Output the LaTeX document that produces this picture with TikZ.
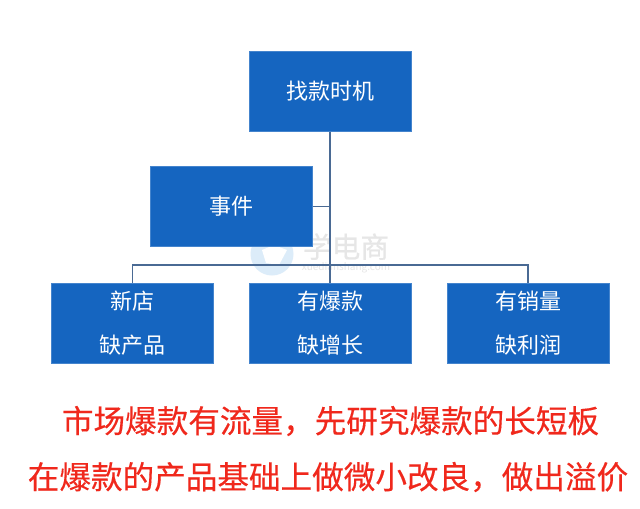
\documentclass[tikz,border=0pt]{standalone}
\usepackage{fontspec}
\setmainfont{Noto Sans CJK SC}
\newfontfamily\notefont[FakeBold=0.35]{Noto Sans CJK SC}
\definecolor{boxblue}{HTML}{1565C0}
\definecolor{linkblue}{HTML}{4A6A94}
\definecolor{notered}{HTML}{F0281C}
\definecolor{markblue}{HTML}{DCECF9}
\definecolor{markgrey}{HTML}{E6E6E6}
\tikzset{every picture/.style={line width=0.75pt}}
\tikzset{
  boxnode/.style={draw=boxblue!80!white,fill=boxblue,text=white,minimum width=121.5pt,minimum height=60pt,inner sep=0pt,align=center,font=\fontsize{16.5}{33}\selectfont},
  linkline/.style={draw=linkblue,line width=1.3pt},
  notetext/.style={text=notered,inner sep=0pt,font=\notefont\fontsize{23.7}{28}\selectfont},
}

\begin{document}
\begin{tikzpicture}[x=0.75pt,y=0.75pt,yscale=-1,xscale=1]
\useasboundingbox[fill=white] (0,0) rectangle (640,508);

%Watermark
\fill[markblue] (272,254) circle (21.5);
\fill[white] (262,250) -- (274,245) -- (287,250) -- (279,265) -- (266,263) -- cycle ;
\node[text=markgrey,inner sep=0pt,text height=14pt,text depth=1pt,font=\notefont\fontsize{21.5}{21}\selectfont] (markname) at (346,249) {学电商};
\node[text=markgrey,inner sep=0pt,text height=5pt,text depth=0pt,font=\fontsize{7.5}{8}\selectfont] (markurl) at (346,267) {xuedianshang.com};

%Boxes
\node[boxnode] (zhaokuan) at (330,91) {找款时机};
\node[boxnode] (shijian) at (231.5,206.5) {事件};
\node[boxnode] (xindian) at (132.5,323) {新店\\缺产品};
\node[boxnode] (baokuan) at (330,323) {有爆款\\缺增长};
\node[boxnode] (xiaoliang) at (528,323) {有销量\\缺利润};

%Straight Lines
\coordinate (busleft) at (xindian.north |- 0,265);
\coordinate (busright) at (xiaoliang.north |- 0,265);
\draw[linkline] (zhaokuan.south) -- (baokuan.north) ;
\draw[linkline] (shijian.east) -- (shijian.east -| zhaokuan.south) ;
\draw[linkline] (xindian.north) -- (busleft) -- (busright) -- (xiaoliang.north) ;

% Text Node
\node[notetext] (noteone) at (330.5,421) {市场爆款有流量，先研究爆款的长短板};
\node[notetext] (notetwo) at (328,477) {在爆款的产品基础上做微小改良，做出溢价};

\end{tikzpicture}
\end{document}
